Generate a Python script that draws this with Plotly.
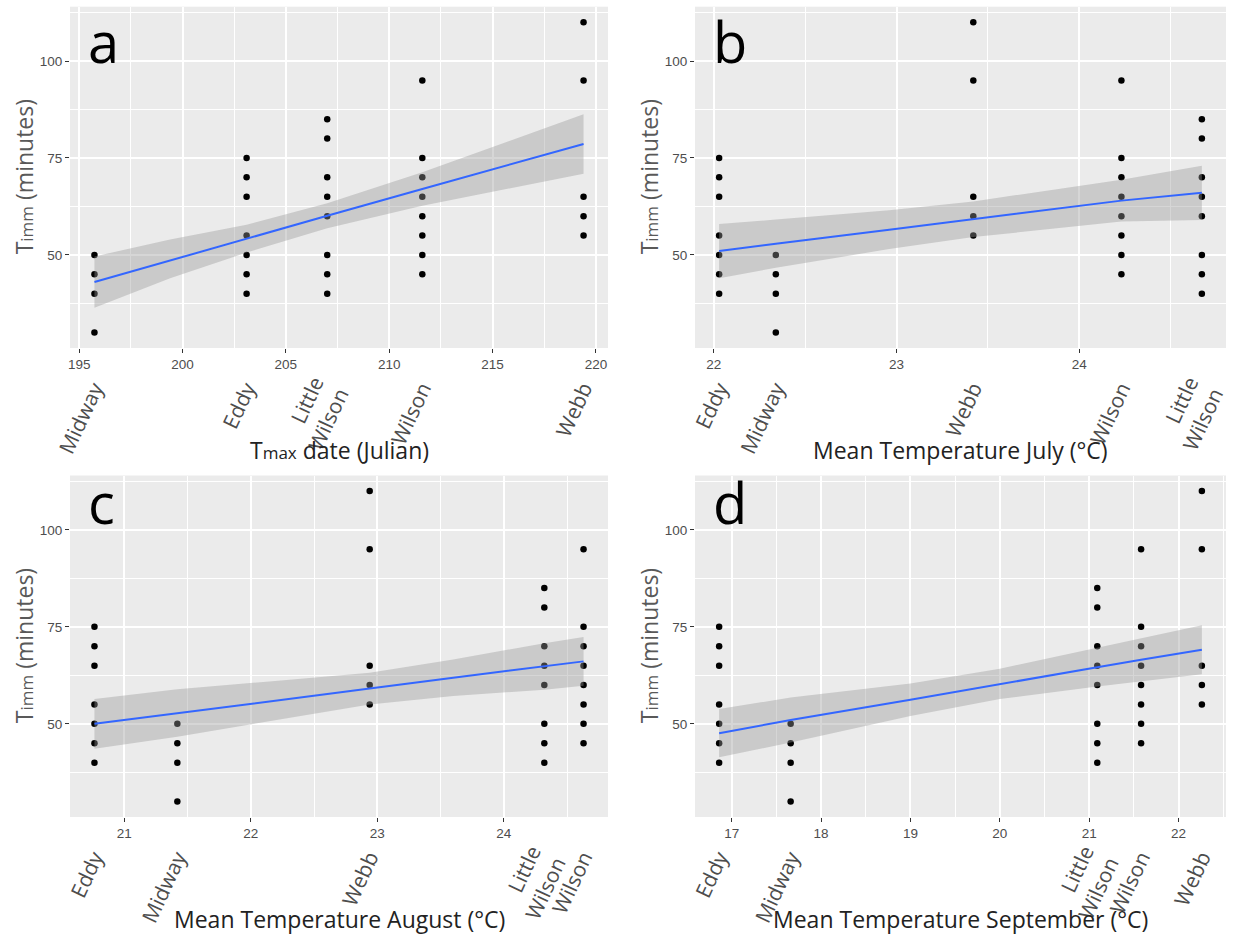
import plotly.graph_objects as go

# ---------------- data ----------------
site_names = ["Midway", "Eddy", "Little<br>Wilson", "Wilson", "Webb"]
midway_t = [30, 40, 45, 50]
eddy_t = [40, 45, 50, 55, 65, 70, 75]
little_wilson_t = [40, 45, 50, 60, 65, 70, 80, 85]
wilson_t = [45, 50, 55, 60, 65, 70, 75, 95]
webb_t = [55, 60, 65, 95, 110]

# site x-position in each panel (same order as site_names)
tmax_date = [195.74, 203.1, 207.0, 211.6, 219.4]
temp_july = [22.34, 22.03, 24.67, 24.23, 23.42]
temp_aug = [21.42, 20.765, 24.32, 24.63, 22.94]
temp_sep = [17.66, 16.86, 21.09, 21.58, 22.26]

# linear fit and 95% band
fit_a_x = [195.74, 199.4, 203.1, 207.0, 211.6, 215.5, 219.4]
fit_a_y = [43.0, 48.6, 54.2, 60.1, 67.0, 72.8, 78.6]
fit_a_lo = [36.4, 44.0, 50.6, 56.9, 62.7, 66.8, 70.9]
fit_a_hi = [49.6, 54.0, 57.8, 63.3, 71.3, 78.8, 86.3]

fit_b_x = [22.03, 22.34, 22.96, 23.42, 24.23, 24.67]
fit_b_y = [51.0, 52.9, 56.5, 59.2, 64.0, 66.0]
fit_b_lo = [44.0, 46.7, 51.5, 54.6, 58.6, 59.0]
fit_b_hi = [58.0, 59.1, 61.5, 63.8, 69.4, 73.0]

fit_c_x = [20.765, 21.42, 22.17, 22.94, 23.6, 24.32, 24.63]
fit_c_y = [50.0, 52.8, 55.9, 59.1, 61.9, 64.8, 66.1]
fit_c_lo = [43.6, 46.7, 50.8, 55.0, 57.2, 58.8, 59.8]
fit_c_hi = [56.4, 58.9, 61.0, 63.2, 66.6, 70.8, 72.4]

fit_d_x = [16.86, 17.66, 19.0, 20.0, 21.09, 21.58, 22.26]
fit_d_y = [47.6, 51.0, 56.2, 60.3, 64.6, 66.5, 69.1]
fit_d_lo = [41.4, 45.2, 52.0, 56.4, 59.6, 61.0, 62.8]
fit_d_hi = [53.8, 56.8, 60.4, 64.2, 69.6, 72.0, 75.4]

panel_letters = ["a", "b", "c", "d"]
x_titles = [
    "T<span style='font-size:17px'>max</span> date (Julian)",
    "Mean Temperature July (°C)",
    "Mean Temperature August (°C)",
    "Mean Temperature September (°C)",
]
y_title = "T<span style='font-size:17px'>imm</span> (minutes)"
y_ticks = [50, 75, 100]
x_ticks_a = [195, 200, 205, 210, 215, 220]
x_ticks_b = [22, 23, 24]
x_ticks_c = [21, 22, 23, 24]
x_ticks_d = [17, 18, 19, 20, 21, 22]

# ---------------- figure ----------------
W, H = 1238, 936
site_times = [midway_t, eddy_t, little_wilson_t, wilson_t, webb_t]
panels = [
    (tmax_date, fit_a_x, fit_a_y, fit_a_lo, fit_a_hi, x_ticks_a, 2.5),
    (temp_july, fit_b_x, fit_b_y, fit_b_lo, fit_b_hi, x_ticks_b, 0.5),
    (temp_aug, fit_c_x, fit_c_y, fit_c_lo, fit_c_hi, x_ticks_c, 0.5),
    (temp_sep, fit_d_x, fit_d_y, fit_d_lo, fit_d_hi, x_ticks_d, 0.5),
]
x_doms = [[70 / W, 608 / W], [695 / W, 1226 / W], [70 / W, 608 / W], [695 / W, 1226 / W]]
y_doms = [[1 - 348 / H, 1 - 6.7 / H], [1 - 348 / H, 1 - 6.7 / H],
          [1 - 817 / H, 1 - 475.5 / H], [1 - 817 / H, 1 - 475.5 / H]]
y_range = [26, 114]

fig = go.Figure()
layout = dict(
    width=W, height=H, margin=dict(l=0, r=0, t=0, b=0, autoexpand=False),
    paper_bgcolor="white", plot_bgcolor="#ebebeb", showlegend=False,
    annotations=[],
)

tick_font = dict(family="Liberation Sans, Arial", size=13.5, color="#4d4d4d")
site_font = dict(family="Open Sans", size=21, color="#4d4d4d")

for i, (sx, fx, fy, flo, fhi, xt, minor_dt) in enumerate(panels):
    n = i + 1
    xa = "x" if n == 1 else f"x{n}"
    ya = "y" if n == 1 else f"y{n}"
    m = n + 4
    xs, ys = [], []
    for xv, tv in zip(sx, site_times):
        xs += [xv] * len(tv)
        ys += tv
    fig.add_trace(go.Scatter(x=xs, y=ys, mode="markers", xaxis=xa, yaxis=ya,
                             marker=dict(color="black", size=6.5, line=dict(width=0)),
                             hoverinfo="skip"))
    fig.add_trace(go.Scatter(x=fx + fx[::-1], y=fhi + flo[::-1], xaxis=xa, yaxis=ya,
                             mode="lines", fill="toself", line=dict(width=0),
                             fillcolor="rgba(153,153,153,0.4)", hoverinfo="skip"))
    fig.add_trace(go.Scatter(x=fx, y=fy, mode="lines", xaxis=xa, yaxis=ya,
                             line=dict(color="#3366FF", width=2), hoverinfo="skip"))
    # invisible trace that activates the site-name axis
    fig.add_trace(go.Scatter(x=sx, y=[y_ticks[0]] * len(sx), mode="markers",
                             xaxis=f"x{m}", yaxis=ya, marker=dict(opacity=0),
                             hoverinfo="skip"))
    span = max(sx) - min(sx)
    xr = [min(sx) - 0.05 * span, max(sx) + 0.05 * span]
    key_x = "xaxis" if n == 1 else f"xaxis{n}"
    key_y = "yaxis" if n == 1 else f"yaxis{n}"
    layout[key_x] = dict(
        domain=x_doms[i], anchor=ya, range=xr, tickvals=xt, automargin=False,
        ticks="outside", ticklen=4, tickcolor="#333333", tickwidth=1,
        tickfont=tick_font, showgrid=True, gridcolor="white", gridwidth=1.6,
        zeroline=False, showline=False,
        minor=dict(dtick=minor_dt, tick0=xt[0], showgrid=True, gridcolor="white", gridwidth=0.8),
    )
    layout[key_y] = dict(
        domain=y_doms[i], anchor=xa, range=y_range, tickvals=y_ticks, automargin=False,
        ticks="outside", ticklen=4, tickcolor="#333333", tickwidth=1,
        tickfont=tick_font, showgrid=True, gridcolor="white", gridwidth=1.6,
        zeroline=False, showline=False,
        minor=dict(dtick=12.5, tick0=0, showgrid=True, gridcolor="white", gridwidth=0.8),
    )
    # overlay axis carrying the site names
    layout[f"xaxis{m}"] = dict(
        overlaying=xa, anchor=ya, side="bottom", range=xr, tickvals=sx,
        ticktext=site_names, tickangle=-65, ticks="outside", ticklen=19,
        tickcolor="rgba(0,0,0,0)", tickfont=site_font, showgrid=False,
        zeroline=False, showline=False, automargin=False,
    )
    # panel letter
    dx0, dx1 = x_doms[i]
    dy0, dy1 = y_doms[i]
    letter_y = 1 - 0.5 / H if n <= 2 else dy1 + 14 / H
    layout["annotations"].append(dict(
        text=panel_letters[i], xref="paper", yref="paper",
        x=dx0 + 16 / W, y=letter_y, xanchor="left", yanchor="top",
        showarrow=False, font=dict(family="Open Sans", size=56, color="black"),
    ))
    # x title
    layout["annotations"].append(dict(
        text=x_titles[i], xref="paper", yref="paper",
        x=(dx0 + dx1) / 2, y=dy0 - 102 / H, xanchor="center", yanchor="middle",
        showarrow=False, font=dict(family="Open Sans", size=23, color="#222222"),
    ))
    # y title
    layout["annotations"].append(dict(
        text=y_title, xref="paper", yref="paper", textangle=-90,
        x=dx0 - 46 / W, y=(dy0 + dy1) / 2, xanchor="center", yanchor="middle",
        showarrow=False, font=dict(family="Open Sans", size=23, color="#595959"),
    ))

fig.update_layout(**layout)
fig.write_html("out.html")
